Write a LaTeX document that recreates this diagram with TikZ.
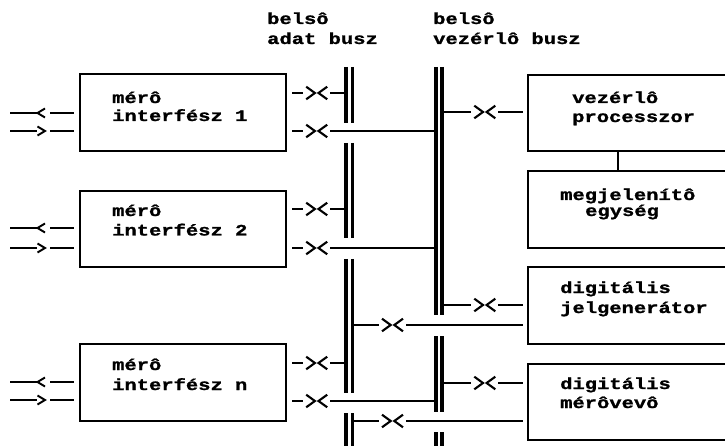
\documentclass[tikz,border=0pt]{standalone}
\usepackage{fontspec}
\newfontfamily\lblfont{Liberation Mono}[FakeStretch=1.28, BoldFeatures={FakeBold=1.2}]
\begin{document}
\begin{tikzpicture}[x=1pt,y=-1pt,
  box/.style={draw, rectangle, line width=2.2pt, inner sep=0pt, outer sep=0pt},
  busnode/.style={rectangle, inner sep=0pt, outer sep=0pt},
  wire/.style={line width=1.6pt},
  busline/.style={line width=3.2pt},
  lbl/.style={anchor=base west, inner sep=0pt, font=\lblfont\bfseries\fontsize{16}{16}\selectfont},
  % plug-and-socket symbol  ><  laid over a wire
  plug/.pic={
    \fill[white] (-13.5,-2.2) rectangle (13.5,2.2);
    \draw[line width=2.1pt] (-10.5,-6.3) -- (-1.8,0) -- (-10.5,6.3)
                            (10.5,-6.3) -- (1.8,0) -- (10.5,6.3);
  },
  % small input / output arrows on the external lines
  inarrow/.pic={
    \fill[white] (-6.5,-2.2) rectangle (6.5,2.2);
    \draw[line width=1.9pt] (2,-4.5) -- (-5.5,0) -- (2,4.5);
  },
  outarrow/.pic={
    \fill[white] (-6.5,-2.2) rectangle (6.5,2.2);
    \draw[line width=1.9pt] (-5.5,-4.5) -- (2,0) -- (-5.5,4.5);
  },
]
\useasboundingbox (0,0) rectangle (725,446);
\clip (0,0) rectangle (725,446);

% ---- interface boxes on the left
\node[box, minimum width=206pt, minimum height=77pt] (mi1) at (183,112.5) {};
\node[box, minimum width=206pt, minimum height=76pt] (mi2) at (183,229) {};
\node[box, minimum width=206pt, minimum height=77pt] (mi3) at (183,382.5) {};

% ---- units on the right (they run past the right edge)
\node[box, minimum width=242pt, minimum height=76pt] (proc) at (649,113) {};
\node[box, minimum width=242pt, minimum height=77pt] (disp) at (649,209.5) {};
\node[box, minimum width=242pt, minimum height=77pt] (gen)  at (649,305.5) {};
\node[box, minimum width=242pt, minimum height=76pt] (rcv)  at (649,402) {};

% ---- the two internal buses (outline nodes, drawn as double bars)
\node[busnode, minimum width=9.5pt, minimum height=393pt] (dbus) at (349.25,263.5) {};
\node[busnode, minimum width=9pt, minimum height=393pt] (cbus) at (439,263.5) {};
\foreach \a/\b in {67/123, 143/238, 259/393, 413/460}
  \draw[busline] (346,\a) -- (346,\b) (352.5,\a) -- (352.5,\b);
\foreach \a/\b in {67/315, 336/412, 432/460}
  \draw[busline] (436,\a) -- (436,\b) (442,\a) -- (442,\b);

% ---- bus titles
\node[lbl] (t1a) at (267,24) {belsô};
\node[lbl] (t1b) at (267,44) {adat busz};
\node[lbl] (t2a) at (433,24) {belsô};
\node[lbl] (t2b) at (433,44) {vezérlô busz};

% ---- box texts
\node[lbl] (l1a) at (112,103) {mérô};
\node[lbl] (l1b) at (112,121) {interfész 1};
\node[lbl] (l2a) at (112,216) {mérô};
\node[lbl] (l2b) at (112,235.5) {interfész 2};
\node[lbl] (l3a) at (112,370) {mérô};
\node[lbl] (l3b) at (112,390) {interfész n};
\node[lbl] (lpa) at (572,103) {vezérlô};
\node[lbl] (lpb) at (572,122) {processzor};
\node[lbl] (lda) at (560,200) {megjelenítô};
\node[lbl] (ldb) at (585,216) {egység};
\node[lbl] (lga) at (560,293) {digitális};
\node[lbl] (lgb) at (560,313) {jelgenerátor};
\node[lbl] (lra) at (560,389) {digitális};
\node[lbl] (lrb) at (560,408) {mérôvevô};

% ---- external lines into the interface boxes
\foreach \bx/\yi/\yo in {mi1/113/131, mi2/228/248, mi3/382/400}{
  \coordinate (\bx-in)  at (10,\yi);
  \coordinate (\bx-out) at (10,\yo);
  \draw[wire, shorten >=6pt] (\bx-in)  -- (\bx.west |- 0,\yi);
  \draw[wire, shorten >=6pt] (\bx-out) -- (\bx.west |- 0,\yo);
  \pic at (43,\yi) {inarrow};
  \pic at (43,\yo) {outarrow};
}

% ---- interface boxes to the data bus and to the control bus
\foreach \bx/\yd/\yc in {mi1/93/131, mi2/209/248, mi3/363/401}{
  \draw[wire, shorten <=6pt] (\bx.east |- 0,\yd) -- (dbus.west |- 0,\yd);
  \draw[wire, shorten <=6pt] (\bx.east |- 0,\yc) -- (cbus.west |- 0,\yc);
  \pic at (316.7,\yd) {plug};
  \pic at (316.7,\yc) {plug};
}

% ---- data bus to the digital units
\draw[wire, shorten >=5pt] (dbus.east |- 0,325) -- (gen.west |- 0,325);
\pic at (392.5,325) {plug};
\draw[wire, shorten >=5pt] (dbus.east |- 0,421) -- (rcv.west |- 0,421);
\pic at (392.5,421) {plug};

% ---- control bus to the right-hand units
\foreach \bx/\y in {proc/112, gen/305, rcv/383}{
  \draw[wire, shorten >=5pt] (cbus.east |- 0,\y) -- (\bx.west |- 0,\y);
  \pic at (484.8,\y) {plug};
}

% ---- processor to display unit
\draw[line width=2.2pt] (proc.south -| 618,0) -- (disp.north -| 618,0);
\end{tikzpicture}
\end{document}
